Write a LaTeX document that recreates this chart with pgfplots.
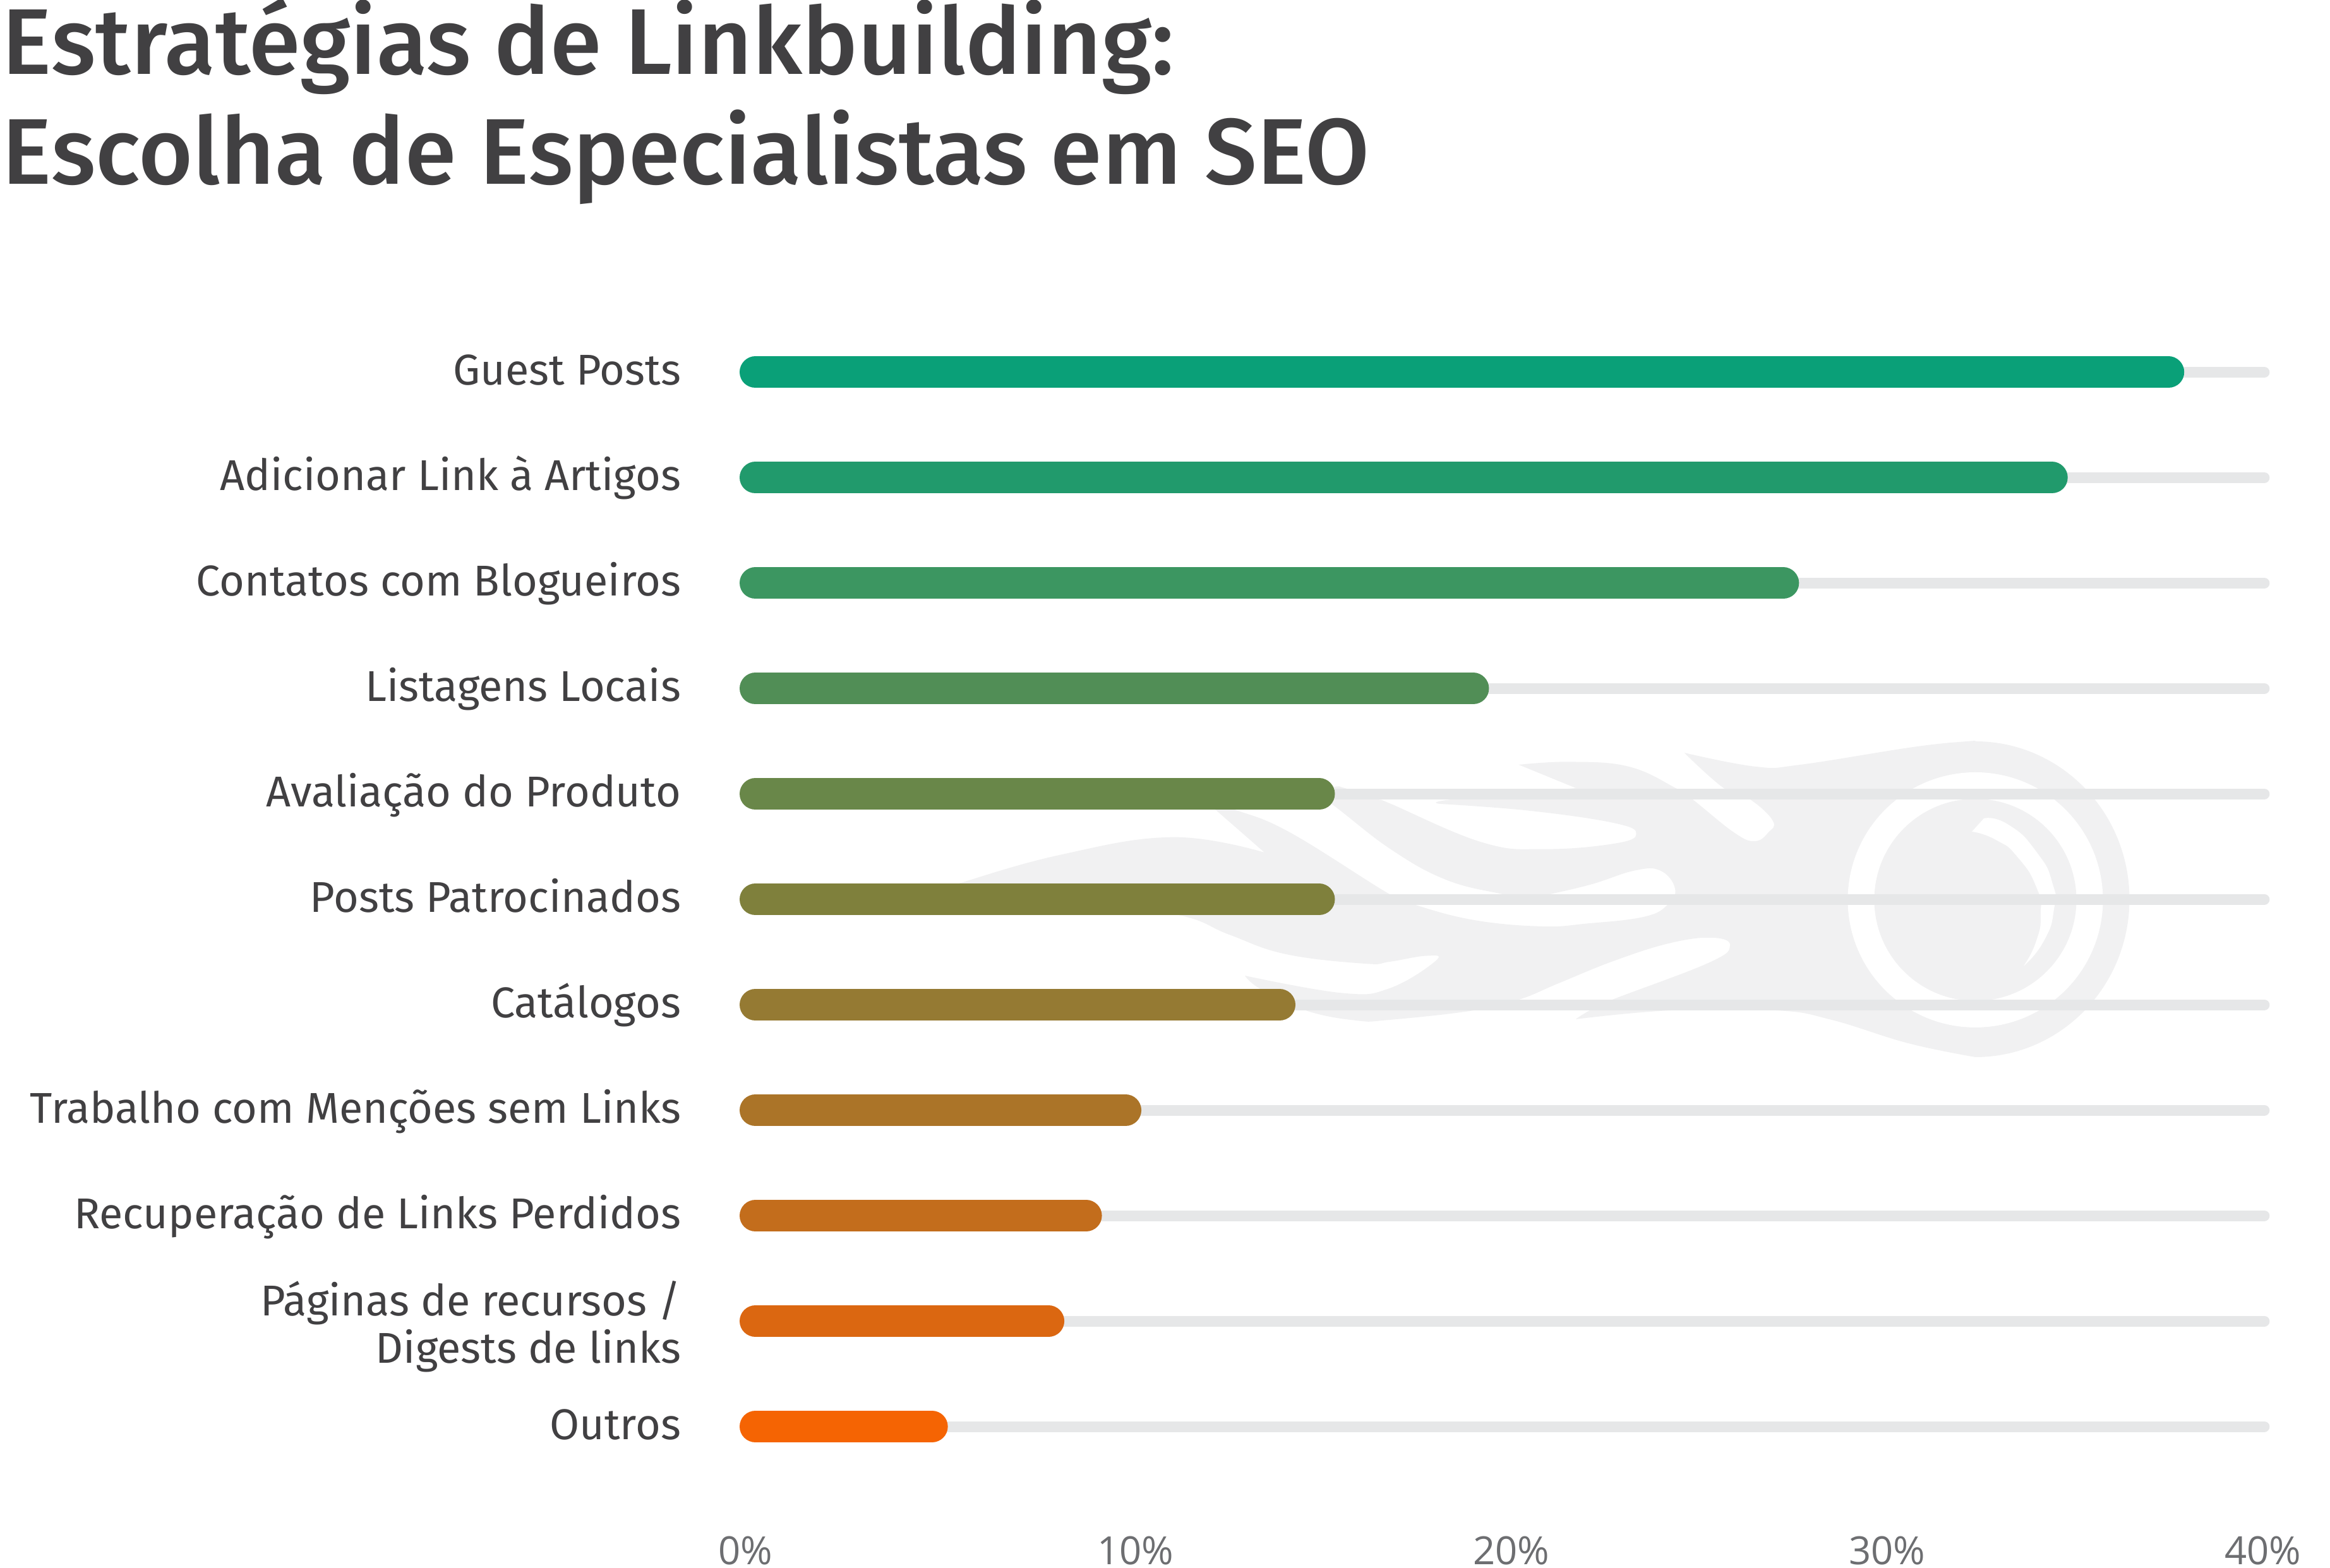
\documentclass[border=0pt]{standalone}
\usepackage{pgfplots}
\pgfplotsset{compat=1.18}
\usepackage{fontspec}
\setmainfont{Fira Sans}
\newfontfamily\titlefont{Fira Sans Medium}
\newfontfamily\labelfont{Fira Sans}
\newfontfamily\tickfont{Open Sans}
\definecolor{titlec}{HTML}{414042}
\definecolor{labelc}{HTML}{414042}
\definecolor{tickc}{HTML}{6D6E71}
\definecolor{trackc}{HTML}{E6E7E8}
\definecolor{logoc}{HTML}{F1F1F2}
\definecolor{c1}{HTML}{0AA078}
\definecolor{c2}{HTML}{219A6C}
\definecolor{c3}{HTML}{3C9661}
\definecolor{c4}{HTML}{518E56}
\definecolor{c5}{HTML}{698749}
\definecolor{c6}{HTML}{7F803C}
\definecolor{c7}{HTML}{957A33}
\definecolor{c8}{HTML}{AB7428}
\definecolor{c9}{HTML}{C36D1C}
\definecolor{c10}{HTML}{DB6711}
\definecolor{c11}{HTML}{F56403}
\begin{document}
\begin{tikzpicture}
\path[use as bounding box] (0,0) rectangle (737.8pt,-496.6pt);
% title
\begin{scope}[x=0.2pt,y=-0.2pt]
\node[anchor=base west,inner sep=0pt,text=titlec,font=\titlefont\fontsize{29.55}{36}\selectfont] at (3,118) {Estratégias de Linkbuilding:};
\node[anchor=base west,inner sep=0pt,text=titlec,font=\titlefont\fontsize{29.55}{36}\selectfont] at (3,292) {Escolha de Especialistas em SEO};
% watermark logo
\fill[logoc]
 plot[smooth,tension=0.7] coordinates {(1490,1410)(1518,1399)(1679,1353.6)(1857,1325.7)(2002,1350)}
 -- plot[smooth,tension=0.7] coordinates {(2002,1350)(1924,1282)(1902,1264)}
 -- plot[smooth,tension=0.7] coordinates {(1902,1264)(1955,1282)(2042,1318)(2200,1416)(2241,1433)(2334,1457)(2441,1467)(2512.5,1462.5)(2602,1452)(2640,1433)(2652,1407)(2628.6,1378.6)(2588,1378.6)(2521,1400)(2454.5,1416)(2419,1424)}
 -- plot[smooth,tension=0.7] coordinates {(2419,1424)(2378.6,1416)(2289,1393)(2200,1343.6)(2103,1269.6)(2060,1250)}
 -- plot[smooth,tension=0.7] coordinates {(2060,1250)(2111.6,1245.7)(2129,1248)(2183,1266)(2200,1272)(2347,1334)(2445.5,1344.6)(2557,1335.7)(2590.6,1320.7)(2557,1303.6)(2423,1284)(2280,1273)}
 -- plot[smooth,tension=0.7] coordinates {(2280,1273)(2298,1266)(2495,1248)}
 -- (2404.5,1211)
 -- plot[smooth,tension=0.7] coordinates {(2404.5,1211)(2486,1206.4)(2579,1214)(2653,1248)(2680,1266)(2745,1318)(2778,1332)(2800,1318)(2807,1300)(2771,1266)(2729,1248)(2666.5,1192)}
 -- plot[smooth,tension=0.7] coordinates {(2666.5,1192)(2780,1214)(2850,1211)(3029,1183)(3114,1174)(3127.5,1174)}
 arc[start angle=-90,end angle=90,x radius=244,y radius=250]
 -- plot[smooth,tension=0.7] coordinates {(3127.5,1674)(3021,1652)(2900,1615)(2811.6,1600)(2646,1600)(2494.6,1614)}
 -- plot[smooth,tension=0.7] coordinates {(2494.6,1614)(2517,1600)(2552.7,1583)(2704.5,1525)(2739,1498)(2713,1485)(2646,1493)(2557,1521)(2468,1557)(2405,1583)(2334,1600)(2200,1615)(2147,1616)(2067,1600)(1995.5,1566)(1971,1545)}
 -- plot[smooth,tension=0.7] coordinates {(1971,1545)(2125,1572.5)(2200,1565)(2273.7,1521)(2258,1513.6)(2200,1523)(2161,1526)(2036,1511)(1946,1480)(1866,1449)(1700,1425)(1490,1410)}
 -- cycle;
\fill[white] (3127.5,1425) circle[radius=202];
\fill[logoc] (3127.5,1425) circle[radius=160];
\fill[white] plot[smooth,tension=1] coordinates {(3141,1296)(3180,1306)(3225,1350)(3250,1400)(3252,1440)(3236,1490)(3203.6,1530)}
 -- plot[smooth,tension=1] coordinates {(3203.6,1530)(3224,1490)(3231,1446)(3225,1407)(3195,1358)(3160,1330)(3122,1317)} -- cycle;
\end{scope}
\begin{axis}[
  at={(239.2pt,-451.8pt)},anchor=south west,
  scale only axis,width=476pt,height=333.9pt,
  xmin=0,xmax=40,ymin=0,ymax=10,clip=false,
  axis line style={draw=none},
  tick style={draw=none},
  major tick length=0pt,
  xtick={0,10,20,30,40},
  xticklabels={\makebox[0pt]{\hspace{-9.2pt}0\%},10\%,20\%,30\%,40\%},
  xticklabel style={anchor=base,yshift=-43.6pt,xshift=1.4pt,font=\tickfont\fontsize{12.3}{14}\selectfont,text=tickc,inner sep=0pt},
  ytick={0,1,2,3,4,5,6,7,8,9,10},
  yticklabels={Outros,{\raisebox{-9.2pt}{\begin{tabular}[b]{@{}r@{}}Páginas de recursos /\\Digests de links\end{tabular}}},Recuperação de Links Perdidos,Trabalho com Menções sem Links,Catálogos,Posts Patrocinados,Avaliação do Produto,Listagens Locais,Contatos com Blogueiros,Adicionar Link à Artigos,Guest Posts},
  yticklabel style={anchor=base east,xshift=-23.4pt,yshift=-4pt,font=\labelfont\fontsize{13.65}{14}\selectfont,text=labelc,inner sep=0pt},
]
\addplot[trackc,line width=3.4pt,line cap=round,forget plot] coordinates {(0,10)(40.15,10)};
\addplot[trackc,line width=3.4pt,line cap=round,forget plot] coordinates {(0,9)(40.15,9)};
\addplot[trackc,line width=3.4pt,line cap=round,forget plot] coordinates {(0,8)(40.15,8)};
\addplot[trackc,line width=3.4pt,line cap=round,forget plot] coordinates {(0,7)(40.15,7)};
\addplot[trackc,line width=3.4pt,line cap=round,forget plot] coordinates {(0,6)(40.15,6)};
\addplot[trackc,line width=3.4pt,line cap=round,forget plot] coordinates {(0,5)(40.15,5)};
\addplot[trackc,line width=3.4pt,line cap=round,forget plot] coordinates {(0,4)(40.15,4)};
\addplot[trackc,line width=3.4pt,line cap=round,forget plot] coordinates {(0,3)(40.15,3)};
\addplot[trackc,line width=3.4pt,line cap=round,forget plot] coordinates {(0,2)(40.15,2)};
\addplot[trackc,line width=3.4pt,line cap=round,forget plot] coordinates {(0,1)(40.15,1)};
\addplot[trackc,line width=3.4pt,line cap=round,forget plot] coordinates {(0,0)(40.15,0)};
\addplot[c1,line width=10pt,line cap=round] coordinates {(0,10)(37.6,10)};
\addplot[c2,line width=10pt,line cap=round] coordinates {(0,9)(34.5,9)};
\addplot[c3,line width=10pt,line cap=round] coordinates {(0,8)(27.35,8)};
\addplot[c4,line width=10pt,line cap=round] coordinates {(0,7)(19.1,7)};
\addplot[c5,line width=10pt,line cap=round] coordinates {(0,6)(15,6)};
\addplot[c6,line width=10pt,line cap=round] coordinates {(0,5)(15,5)};
\addplot[c7,line width=10pt,line cap=round] coordinates {(0,4)(13.95,4)};
\addplot[c8,line width=10pt,line cap=round] coordinates {(0,3)(9.85,3)};
\addplot[c9,line width=10pt,line cap=round] coordinates {(0,2)(8.8,2)};
\addplot[c10,line width=10pt,line cap=round] coordinates {(0,1)(7.8,1)};
\addplot[c11,line width=10pt,line cap=round] coordinates {(0,0)(4.7,0)};
\end{axis}
\end{tikzpicture}
\end{document}
